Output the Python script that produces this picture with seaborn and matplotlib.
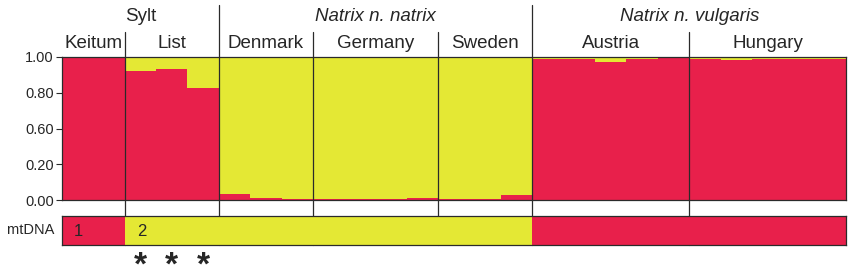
import matplotlib
matplotlib.use("Agg")
import matplotlib.pyplot as plt
import matplotlib.transforms as mtransforms
import numpy as np
import pandas as pd
import seaborn as sns

# ---------------- data ----------------
regions = ["Sylt", "Natrix n. natrix", "Natrix n. vulgaris"]
groups = ["Keitum", "List", "Denmark", "Germany", "Sweden", "Austria", "Hungary"]
group_region = ["Sylt", "Sylt", "Natrix n. natrix", "Natrix n. natrix",
                "Natrix n. natrix", "Natrix n. vulgaris", "Natrix n. vulgaris"]
keitum = [0.995, 0.99]
list_ = [0.905, 0.915, 0.785]
denmark = [0.040, 0.016, 0.006]
germany = [0.005, 0.005, 0.004, 0.012]
sweden = [0.004, 0.004, 0.033]
austria = [0.985, 0.985, 0.967, 0.985, 0.990]
hungary = [0.988, 0.982, 0.985, 0.985, 0.985]
cluster1_by_group = [keitum, list_, denmark, germany, sweden, austria, hungary]
mt_haplotype = ["1", "2", "2", "2", "2", "1", "1"]
mt_labels = ["1", "2", "", "", "", "", ""]
asterisk_list_individuals = [0, 1, 2]   # individuals within "List"
ytick_vals = [0.0, 0.25, 0.5, 0.75, 1.0]
ytick_labels = ["0.00", "0.20", "0.60", "0.80", "1.00"]

RED = "#E8204B"
YELLOW = "#E4E834"
LINE = "#2a2a2a"

rows = []
k = 0
for g, vals, hap in zip(groups, cluster1_by_group, mt_haplotype):
    for v in vals:
        rows.append(dict(ind=k, group=g, red=v, total=1.0, mt=hap, one=1.0))
        k += 1
df = pd.DataFrame(rows)
n = len(df)

# ---------------- figure ----------------
sns.set_style("white")
plt.rcParams["font.family"] = ["Liberation Sans", "DejaVu Sans"]

fig = plt.figure(figsize=(8.5, 2.7), dpi=100)
W, H = 850, 270
x0, x1 = 62, 846
ax = fig.add_axes([x0 / W, (H - 200) / H, (x1 - x0) / W, 143 / H])
axm = fig.add_axes([x0 / W, (H - 245) / H, (x1 - x0) / W, 29.5 / H])

sns.barplot(data=df, x="ind", y="total", color=YELLOW, width=1, linewidth=0,
            errorbar=None, saturation=1, ax=ax)
sns.barplot(data=df, x="ind", y="red", color=RED, width=1, linewidth=0,
            errorbar=None, saturation=1, ax=ax)
ax.set_xlim(-0.5, n - 0.5)
ax.set_ylim(0, 1)
ax.set_xlabel("")
ax.set_ylabel("")
ax.set_xticks([])
ax.set_yticks(ytick_vals)
ax.set_yticklabels(ytick_labels, fontsize=10.5)
ax.tick_params(axis="y", length=4, width=0.8, color=LINE, pad=2, left=True)
for s in ax.spines.values():
    s.set_color(LINE)
    s.set_linewidth(0.9)

sns.barplot(data=df, x="ind", y="one", hue="mt", palette={"1": RED, "2": YELLOW},
            dodge=False, width=1, linewidth=0, errorbar=None, saturation=1,
            legend=False, ax=axm)
axm.set_xlim(-0.5, n - 0.5)
axm.set_ylim(0, 1)
axm.set_xticks([])
axm.set_yticks([])
axm.set_xlabel("")
axm.set_ylabel("")
for s in axm.spines.values():
    s.set_color(LINE)
    s.set_linewidth(0.9)

# ---------------- separators & labels ----------------
trans = mtransforms.blended_transform_factory(ax.transData, ax.transAxes)
def py(p):  # pixel row -> main-axes y fraction
    return (200 - p) / 143.0

counts = [len(v) for v in cluster1_by_group]
edges = np.concatenate([[0], np.cumsum(counts)]) - 0.5
for i in range(1, len(groups)):
    top = 5 if group_region[i] != group_region[i - 1] else 32
    ax.plot([edges[i], edges[i]], [py(top), py(245)], color=LINE, lw=0.9,
            transform=trans, clip_on=False)

for i, g in enumerate(groups):
    xc = (edges[i] + edges[i + 1]) / 2
    ax.text(xc, py(44), g, transform=trans, ha="center", va="center", fontsize=13.5)

for r in regions:
    idx = [i for i, gr in enumerate(group_region) if gr == r]
    xc = (edges[idx[0]] + edges[idx[-1] + 1]) / 2
    style = "normal" if r == "Sylt" else "italic"
    ax.text(xc, py(17), r, transform=trans, ha="center", va="center",
            fontsize=13.5, style=style)

# mtDNA labels
transm = mtransforms.blended_transform_factory(axm.transData, axm.transAxes)
axm.text(-0.5, 0.5, "mtDNA  ", transform=transm, ha="right", va="center", fontsize=10.5)
for i, lab in enumerate(mt_labels):
    if lab:
        axm.text(edges[i] + 0.38, 0.45, lab, transform=transm, ha="left",
                 va="center", fontsize=12)

# asterisks under List individuals
list_start = edges[groups.index("List")] + 0.5
for j in asterisk_list_individuals:
    ax.text(list_start + j, py(266), "*", transform=trans, ha="center",
            va="center", fontsize=24, fontweight="bold")

fig.savefig("out.png", dpi=100)
